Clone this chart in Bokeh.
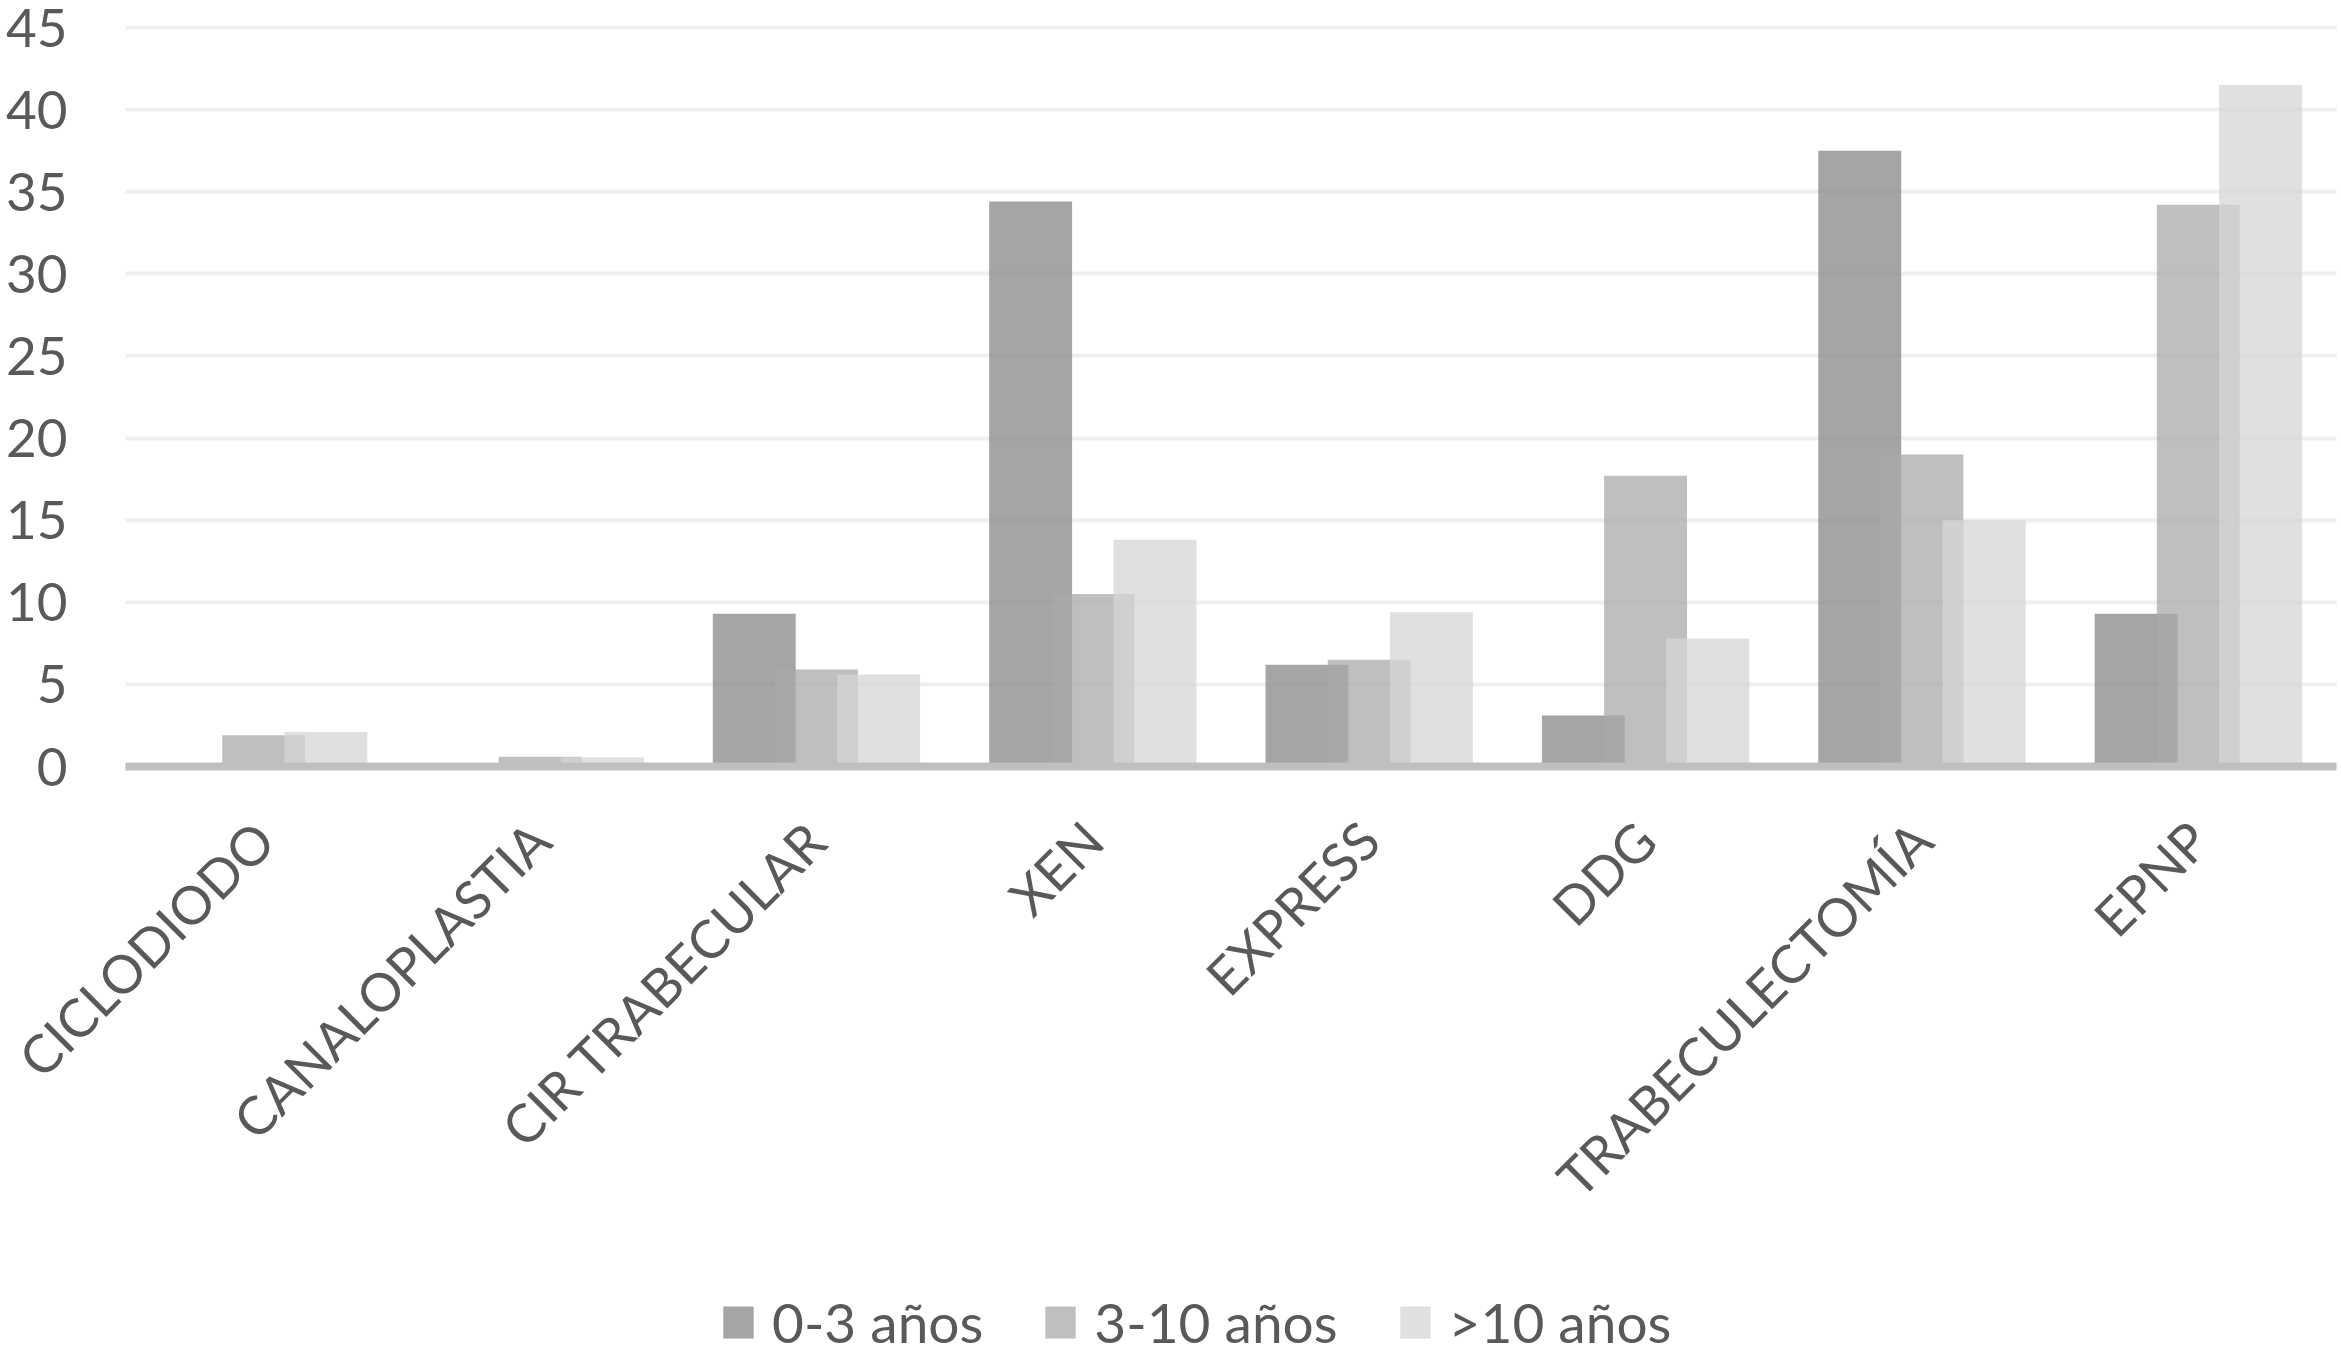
import math
from bokeh.plotting import figure
from bokeh.models import Range1d, Legend, LegendItem, FixedTicker
from bokeh.embed import file_html
from bokeh.resources import INLINE

categories = ["CICLODIODO", "CANALOPLASTIA", "CIR TRABECULAR", "XEN",
              "EXPRESS", "DDG", "TRABECULECTOMÍA", "EPNP"]
series_names = ["0-3 años", "3-10 años", ">10 años"]
v_0_3 = [0, 0, 9.3, 34.4, 6.2, 3.1, 37.5, 9.3]
v_3_10 = [1.9, 0.6, 5.9, 10.5, 6.5, 17.7, 19.0, 34.2]
v_10 = [2.1, 0.55, 5.6, 13.8, 9.4, 7.8, 15.0, 41.5]
y_ticks = [0, 5, 10, 15, 20, 25, 30, 35, 40, 45]

FONT = "Lato"
TXT = "#595959"

# ---- layout (pixels) ----
W, H = 2341, 1346
LEFT, TOP = 125, 27          # position of the plot area (value 0..45, categories 0..n)
PLOT_W, PLOT_H = 2211, 739
n = len(categories)
Y_MAX = 45
px_x = PLOT_W / n
px_y = PLOT_H / Y_MAX
x_start = -LEFT / px_x
x_end = n + (W - LEFT - PLOT_W) / px_x
y_end = Y_MAX + TOP / px_y
y_min = -(H - TOP - PLOT_H) / px_y

p = figure(x_range=Range1d(x_start, x_end), y_range=Range1d(y_min, y_end),
           frame_width=W, frame_height=H,
           min_border_left=0, min_border_top=0, min_border_right=0,
           min_border_bottom=0,
           output_backend="svg", toolbar_location=None)
p.outline_line_color = None
p.background_fill_color = "white"

centers = [i + 0.5 for i in range(n)]
colors = ["#878787", "#aaaaaa", "#d6d6d6"]
offsets = [-0.225, 0.0, 0.225]
renderers = []
for vals, off, col in zip([v_0_3, v_3_10, v_10], offsets, colors):
    r = p.vbar(x=[c + off for c in centers], top=vals, bottom=0, width=0.3,
               fill_color=col, fill_alpha=0.75, line_color=None)
    renderers.append(r)

p.xgrid.grid_line_color = None
p.ygrid.grid_line_color = "#efefef"
p.ygrid.grid_line_width = 4
p.ygrid.ticker = FixedTicker(ticks=y_ticks)
p.ygrid.cross_bounds = (0, n)

p.yaxis.fixed_location = 0
p.yaxis.ticker = FixedTicker(ticks=y_ticks)
p.yaxis.axis_line_color = None
p.yaxis.major_tick_line_color = None
p.yaxis.minor_tick_line_color = None
p.yaxis.major_tick_out = 0
p.yaxis.major_tick_in = 0
p.yaxis.major_label_standoff = 58
p.yaxis.major_label_text_font = FONT
p.yaxis.major_label_text_font_size = "53px"
p.yaxis.major_label_text_color = TXT

p.xaxis.fixed_location = 0
p.xaxis.bounds = (0, n)
p.xaxis.ticker = FixedTicker(ticks=centers)
p.xaxis.major_label_overrides = {c: name for c, name in zip(centers, categories)}
p.xaxis.axis_line_color = "#bfbfbf"
p.xaxis.axis_line_width = 8
p.xaxis.major_tick_line_color = None
p.xaxis.minor_tick_line_color = None
p.xaxis.major_tick_out = 0
p.xaxis.major_tick_in = 0
p.xaxis.major_label_orientation = math.pi / 4
p.xaxis.major_label_standoff = 64
p.xaxis.major_label_text_font = FONT
p.xaxis.major_label_text_font_size = "53px"
p.xaxis.major_label_text_color = TXT

legend = Legend(items=[LegendItem(label=nm, renderers=[r]) for nm, r in zip(series_names, renderers)],
                orientation="horizontal", location=(719, -9),
                glyph_width=38, glyph_height=40, label_standoff=15, spacing=58,
                label_text_font=FONT, label_text_font_size="55px", label_text_color=TXT,
                padding=0, margin=0, border_line_color=None, background_fill_alpha=0)
p.add_layout(legend, "center")

open("out.html", "w").write(file_html(p, INLINE))
